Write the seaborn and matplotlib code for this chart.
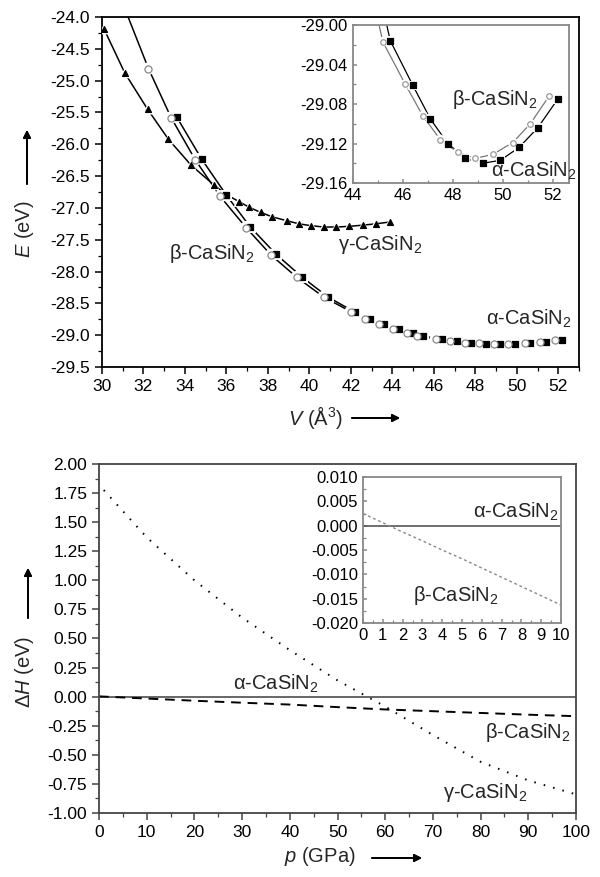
## Energia-volume e entalpia de CaSiN2

import numpy as np
import pandas as pd
import seaborn as sns
import matplotlib.pyplot as plt
from matplotlib.ticker import MultipleLocator, FormatStrFormatter

## Dados E(V)
gamma_v = [30.1, 31.1, 32.2, 33.2, 34.3, 35.4, 36.0, 36.6, 37.1, 37.65, 38.2, 38.9,
           39.5, 40.1, 40.7, 41.3, 41.9, 42.6, 43.2, 43.9]
gamma_e = [-24.19, -24.88, -25.45, -25.92, -26.33, -26.64, -26.79, -26.90, -26.99, -27.07,
           -27.14, -27.20, -27.25, -27.28, -27.30, -27.30, -27.29, -27.27, -27.25, -27.22]

alpha_v = [33.6, 34.8, 36.0, 37.15, 38.4, 39.66, 40.9, 42.2, 42.9, 43.6, 44.3, 45.0,
           45.5, 46.4, 47.1, 47.8, 48.5, 49.2, 49.9, 50.65, 51.4, 52.2]
alpha_e = [-25.57, -26.23, -26.80, -27.30, -27.73, -28.09, -28.40, -28.64, -28.75, -28.83,
           -28.90, -28.96, -29.016, -29.061, -29.095, -29.120, -29.135, -29.140, -29.137,
           -29.124, -29.104, -29.075]

beta_v = [32.24, 33.33, 34.49, 35.7, 36.95, 38.15, 39.39, 40.69, 42.0, 42.67, 43.35, 44.03,
          44.7, 45.2, 46.1, 46.8, 47.5, 48.2, 48.9, 49.6, 50.4, 51.1, 51.85]
beta_e = [-24.81, -25.58, -26.24, -26.82, -27.31, -27.74, -28.09, -28.40, -28.63, -28.74,
          -28.83, -28.90, -28.96, -29.017, -29.060, -29.092, -29.116, -29.129, -29.135,
          -29.131, -29.119, -29.100, -29.072]
# inicio da curva ajustada do beta (sai pelo topo)
beta_topo = (31.26, -24.0)

## Dados dH(p)
beta_p = [0, 1, 2, 3, 4, 5, 6, 7, 8, 9, 10, 20, 30, 40, 50, 60, 70, 80, 90, 100]
beta_h = [0.0025, 0.0006, -0.0013, -0.0031, -0.0050, -0.0068, -0.0087, -0.0106, -0.0125,
          -0.0144, -0.0163, -0.035, -0.052, -0.068, -0.090, -0.110, -0.125, -0.140,
          -0.155, -0.168]
gamma_p = [1, 10, 20, 30, 40, 50, 60, 70, 80, 90, 100]
gamma_h = [1.776, 1.37, 1.00, 0.68, 0.40, 0.14, -0.085, -0.33, -0.56, -0.72, -0.84]
alpha_p = [0, 100]
alpha_h = [0.0, 0.0]

## Estilo
sns.set_style('ticks')
plt.rcParams['font.family'] = ['Liberation Sans', 'DejaVu Sans']
plt.rcParams['mathtext.fontset'] = 'custom'
plt.rcParams['mathtext.rm'] = 'Liberation Sans'
plt.rcParams['mathtext.it'] = 'Liberation Sans:italic'
plt.rcParams['axes.linewidth'] = 1.3

fig = plt.figure(figsize=(6, 8.77), dpi=100)


def eixo(ax, fonte, dentro=False, cor='black'):
    d = 'in' if dentro else 'out'
    ax.tick_params(which='both', direction=d, top=False, right=False, colors=cor,
                   labelcolor='black', labelsize=fonte)
    ax.tick_params(which='major', length=5 if not dentro else 3, width=1.1)
    ax.tick_params(which='minor', length=3 if not dentro else 2, width=0.9)
    for s in ax.spines.values():
        s.set_color(cor)
    ax.set_xlabel('')
    ax.set_ylabel('')


def curva(ax, v, e, marcador, cor_linha, cor_face, cor_borda, tam, lw=1.1, extra=None):
    df = pd.DataFrame({'V': v, 'E': e})
    dl = df if extra is None else pd.concat([pd.DataFrame({'V': [extra[0]], 'E': [extra[1]]}), df])
    sns.lineplot(data=dl, x='V', y='E', ax=ax, sort=False, estimator=None,
                 color=cor_linha, lw=lw)
    # halo branco para abrir a linha em volta dos simbolos
    sns.scatterplot(data=df, x='V', y='E', ax=ax, marker=marcador, s=tam * 3.2,
                    color='white', edgecolor='none', zorder=4)
    sns.scatterplot(data=df, x='V', y='E', ax=ax, marker=marcador, s=tam,
                    facecolor=cor_face, edgecolor=cor_borda, linewidth=0.9, zorder=5)


def seta(x0, y0, x1, y1):
    # setas dos rotulos dos eixos (coordenadas em pixels da imagem)
    fig.add_artist(plt.annotate('', xy=(x1 / 600, 1 - y1 / 877), xytext=(x0 / 600, 1 - y0 / 877),
                                xycoords='figure fraction', textcoords='figure fraction',
                                arrowprops=dict(arrowstyle='-|>', lw=1.3, color='black',
                                                mutation_scale=11, shrinkA=0, shrinkB=0)))


## Painel superior
ax1 = fig.add_axes([0.17, 0.5815, 0.795, 0.3991])
curva(ax1, gamma_v, gamma_e, '^', 'black', 'black', 'black', 18)
curva(ax1, alpha_v, alpha_e, 's', 'black', 'black', 'black', 20)
curva(ax1, beta_v, beta_e, 'o', 'black', 'white', '#888888', 26, extra=beta_topo)
ax1.set_xlim(30, 53)
ax1.set_ylim(-29.5, -24.0)
ax1.xaxis.set_major_locator(MultipleLocator(2))
ax1.xaxis.set_minor_locator(MultipleLocator(1))
ax1.yaxis.set_major_locator(MultipleLocator(0.5))
ax1.yaxis.set_minor_locator(MultipleLocator(0.25))
ax1.yaxis.set_major_formatter(FormatStrFormatter('%.1f'))
eixo(ax1, 12.5)
ax1.text(35.3, -27.71, r'β-CaSiN$_2$', fontsize=14.5, ha='center', va='center')
ax1.text(43.4, -27.58, r'γ-CaSiN$_2$', fontsize=14.5, ha='center', va='center')
ax1.text(50.6, -28.74, r'α-CaSiN$_2$', fontsize=14.5, ha='center', va='center')
fig.text(316 / 600, 1 - 417 / 877, r'$V$ (Å$^3$)', fontsize=14.5, ha='center', va='center')
seta(352, 418, 400, 418)
fig.text(25 / 600, 1 - 229 / 877, r'$E$ (eV)', fontsize=14.5, ha='center', va='center',
         rotation=90)
seta(27, 184, 27, 130)

## Inset superior
ax2 = fig.add_axes([0.588, 0.7913, 0.36, 0.1802])
ax2.set_facecolor('white')
curva(ax2, alpha_v, alpha_e, 's', 'black', 'black', 'black', 14, lw=0.9)
curva(ax2, beta_v, beta_e, 'o', '#777777', 'white', '#999999', 16, lw=0.9)
ax2.set_xlim(44, 52.64)
ax2.set_ylim(-29.16, -29.00)
ax2.xaxis.set_major_locator(MultipleLocator(2))
ax2.xaxis.set_minor_locator(MultipleLocator(1))
ax2.yaxis.set_major_locator(MultipleLocator(0.04))
ax2.yaxis.set_minor_locator(MultipleLocator(0.02))
ax2.yaxis.set_major_formatter(FormatStrFormatter('%.2f'))
eixo(ax2, 12, dentro=True, cor='#888888')
ax2.text(49.7, -29.075, r'β-CaSiN$_2$', fontsize=14.5, ha='center', va='center')
ax2.text(51.25, -29.148, r'α-CaSiN$_2$', fontsize=14.5, ha='center', va='center')

## Painel inferior
ax3 = fig.add_axes([0.165, 0.073, 0.795, 0.3979])
sns.lineplot(x=alpha_p, y=alpha_h, ax=ax3, color='#666666', lw=1.4)
sns.lineplot(x=beta_p, y=beta_h, ax=ax3, color='black', lw=1.4,
             linestyle=(0, (5, 3.5)))
sns.lineplot(x=gamma_p, y=gamma_h, ax=ax3, color='black', lw=1.4,
             linestyle=(0, (0.8, 4.2)))
ax3.set_xlim(0, 100)
ax3.set_ylim(-1.0, 2.0)
ax3.xaxis.set_major_locator(MultipleLocator(10))
ax3.xaxis.set_minor_locator(MultipleLocator(5))
ax3.yaxis.set_major_locator(MultipleLocator(0.25))
ax3.yaxis.set_minor_locator(MultipleLocator(0.125))
ax3.yaxis.set_major_formatter(FormatStrFormatter('%.2f'))
eixo(ax3, 12.5, cor='#444444')
ax3.text(37, 0.11, r'α-CaSiN$_2$', fontsize=14.5, ha='center', va='center')
ax3.text(99, -0.31, r'β-CaSiN$_2$', fontsize=14.5, ha='right', va='center')
ax3.text(81, -0.82, r'γ-CaSiN$_2$', fontsize=14.5, ha='center', va='center')
fig.text(320 / 600, 1 - 857 / 877, r'$p$ (GPa)', fontsize=14.5, ha='center', va='center')
seta(372, 858, 422, 858)
fig.text(25 / 600, 1 - 672 / 877, r'Δ$H$ (eV)', fontsize=14.5, ha='center', va='center',
         rotation=90)
seta(28, 618, 28, 568)

## Inset inferior
ax4 = fig.add_axes([0.605, 0.2896, 0.33, 0.1665])
ax4.set_facecolor('white')
sns.lineplot(x=alpha_p, y=alpha_h, ax=ax4, color='#555555', lw=1.2)
sns.lineplot(x=beta_p, y=beta_h, ax=ax4, color='#888888', lw=1.0,
             linestyle=(0, (2, 2)))
ax4.set_xlim(0, 10)
ax4.set_ylim(-0.020, 0.010)
ax4.xaxis.set_major_locator(MultipleLocator(1))
ax4.xaxis.set_minor_locator(MultipleLocator(0.5))
ax4.yaxis.set_major_locator(MultipleLocator(0.005))
ax4.yaxis.set_minor_locator(MultipleLocator(0.0025))
ax4.yaxis.set_major_formatter(FormatStrFormatter('%.3f'))
eixo(ax4, 12, dentro=True, cor='#888888')
ax4.text(7.7, 0.0028, r'α-CaSiN$_2$', fontsize=14.5, ha='center', va='center')
ax4.text(4.7, -0.0143, r'β-CaSiN$_2$', fontsize=14.5, ha='center', va='center')

fig.savefig('out.png', dpi=100)
